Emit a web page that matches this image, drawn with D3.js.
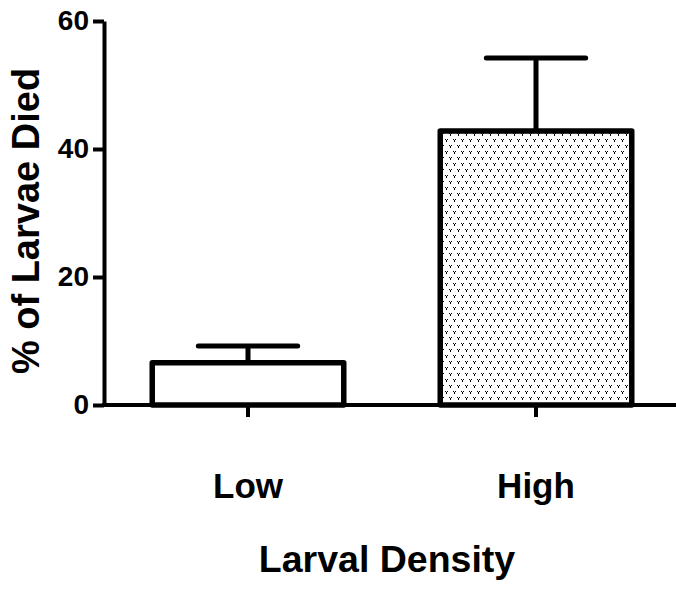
<!DOCTYPE html>
<html>
<head>
<meta charset="utf-8">
<script src="https://cdn.jsdelivr.net/npm/d3@7"></script>
<style>
  body { margin: 0; background: #fff; }
  text { font-family: "Liberation Sans", Arial, sans-serif; font-weight: bold; fill: #000; }
</style>
</head>
<body>
<svg id="chart" width="676" height="597"></svg>
<script>
// data
const categories = ['Low', 'High'];
const means = [6.6, 42.8];
const errors = [2.6, 11.4];
const yTicks = [0, 20, 40, 60];

const svg = d3.select('#chart');

const x = d3.scaleBand().domain(categories).range([104, 680]).padding(0);
const y = d3.scaleLinear().domain([0, 60]).range([405, 21]);

const barW = x.bandwidth() * 0.665;
const capW = x.bandwidth() * 0.345;

// dotted fill for the second bar
const defs = svg.append('defs');
const pat = defs.append('pattern')
  .attr('id', 'dots')
  .attr('patternUnits', 'userSpaceOnUse')
  .attr('width', 8)
  .attr('height', 12);
pat.append('rect').attr('width', 8).attr('height', 12).attr('fill', '#fff');
[[1, 1], [5, 7]].forEach(function (p) {
  pat.append('path')
    .attr('d', 'M' + p[0] + ',' + p[1] + 'h1v1h-1z M' + (p[0] + 2) + ',' + p[1] + 'h1v1h-1z M' + (p[0] + 1) + ',' + (p[1] + 1) + 'h1v2h-1z')
    .attr('fill', '#000')
    .attr('shape-rendering', 'crispEdges');
});

const fills = ['#fff', 'url(#dots)'];

// error bars (behind the bars)
const err = svg.append('g').attr('stroke', '#000').attr('stroke-width', 5);
categories.forEach(function (c, i) {
  const cx = x(c) + x.bandwidth() / 2;
  err.append('line')
    .attr('x1', cx).attr('x2', cx)
    .attr('y1', y(means[i])).attr('y2', y(means[i] + errors[i]));
  err.append('line')
    .attr('x1', cx - capW / 2).attr('x2', cx + capW / 2)
    .attr('y1', y(means[i] + errors[i])).attr('y2', y(means[i] + errors[i]))
    .attr('stroke-linecap', 'round');
});

// bars
svg.append('g')
  .selectAll('rect')
  .data(categories)
  .join('rect')
  .attr('x', d => x(d) + x.bandwidth() / 2 - barW / 2)
  .attr('y', (d, i) => y(means[i]))
  .attr('width', barW)
  .attr('height', (d, i) => y(0) - y(means[i]))
  .attr('fill', (d, i) => fills[i])
  .attr('stroke', '#000')
  .attr('stroke-width', 5.5)
  .attr('stroke-linejoin', 'round');

// y axis
const yAxis = svg.append('g')
  .attr('transform', 'translate(104,0)')
  .call(d3.axisLeft(y).tickValues(yTicks).tickSize(11).tickSizeOuter(0).tickPadding(4));
yAxis.select('.domain').attr('stroke-width', 4);
yAxis.selectAll('.tick line').attr('stroke-width', 4);
yAxis.selectAll('.tick text').style('font-size', '28px');

// x axis
const xAxis = svg.append('g')
  .attr('transform', 'translate(0,405)')
  .call(d3.axisBottom(x).tickSize(12).tickSizeOuter(0).tickFormat(''));
xAxis.select('.domain').attr('stroke-width', 4).attr('d', 'M102,0H676');
xAxis.selectAll('.tick line').attr('stroke-width', 4);

// category labels
svg.append('g')
  .selectAll('text')
  .data(categories)
  .join('text')
  .attr('x', d => x(d) + x.bandwidth() / 2)
  .attr('y', 498)
  .attr('text-anchor', 'middle')
  .style('font-size', '35px')
  .text(d => d);

// axis titles
svg.append('text')
  .attr('x', 387)
  .attr('y', 572)
  .attr('text-anchor', 'middle')
  .style('font-size', '37.5px')
  .text('Larval Density');

svg.append('text')
  .attr('transform', 'translate(39,221) rotate(-90)')
  .attr('text-anchor', 'middle')
  .style('font-size', '38px')
  .text('% of Larvae Died');
</script>
</body>
</html>
